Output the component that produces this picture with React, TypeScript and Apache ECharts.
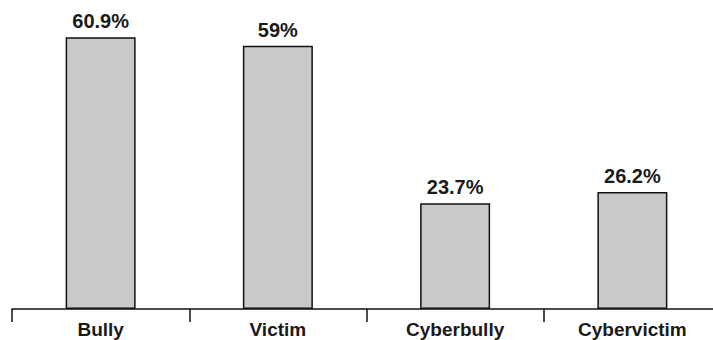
import React, { useEffect, useRef } from "react";
import * as echarts from "echarts";

const categories = ["Bully", "Victim", "Cyberbully", "Cybervictim"];
const values = [60.9, 59, 23.7, 26.2];
const valueLabels = ["60.9%", "59%", "23.7%", "26.2%"];

export default function App() {
  const ref = useRef<HTMLDivElement>(null);
  useEffect(() => {
    if (!ref.current) return;
    const chart = echarts.init(ref.current, null, { renderer: "svg" });
    chart.setOption({
      animation: false,
      backgroundColor: "#ffffff",
      grid: { left: 12, width: 709, top: 19, bottom: 31, containLabel: false, outerBoundsMode: "none" },
      xAxis: {
        type: "category",
        data: categories,
        boundaryGap: true,
        axisLine: { show: true, lineStyle: { color: "#111", width: 1.5 } },
        axisTick: { show: true, length: 13, inside: false, lineStyle: { color: "#111", width: 1.5 } },
        axisLabel: {
          color: "#1a1a1a",
          fontSize: 19,
          fontWeight: "bold",
          fontFamily: "Liberation Sans, Arial, sans-serif",
          margin: 11,
        },
      },
      yAxis: {
        type: "value",
        min: 0,
        max: 65,
        show: false,
        splitLine: { show: false },
      },
      series: [
        {
          type: "bar",
          data: values,
          barWidth: 70,
          itemStyle: { color: "#c9c9c9", borderColor: "#111", borderWidth: 1.5 },
          label: {
            show: true,
            position: "top",
            distance: 6,
            color: "#1a1a1a",
            fontSize: 20,
            fontWeight: "bold",
            fontFamily: "Liberation Sans, Arial, sans-serif",
            formatter: (p: any) => valueLabels[p.dataIndex],
          },
        },
      ],
    });
    return () => chart.dispose();
  }, []);
  return <div ref={ref} style={{ width: 713, height: 340, position: "fixed", left: 0, top: 0 }} />;
}
